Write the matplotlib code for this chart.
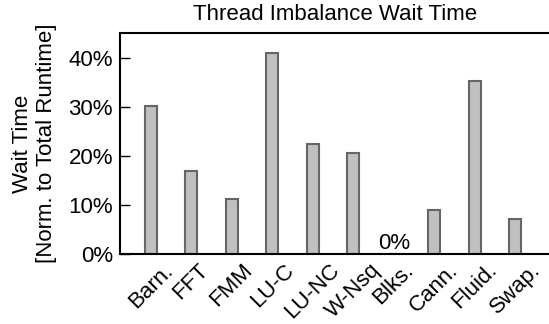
import matplotlib.pyplot as plt
import numpy as np

plt.rcParams['font.family'] = ['Liberation Sans', 'DejaVu Sans']

benchmarks = ["Barn.", "FFT", "FMM", "LU-C", "LU-NC", "W-Nsq", "Blks.", "Cann.", "Fluid.", "Swap."]
wait_time = [30.1, 16.9, 11.2, 40.9, 22.5, 20.5, 0.0, 8.9, 35.3, 7.1]
yticks = [0, 10, 20, 30, 40]

fig = plt.figure(figsize=(5.49, 3.24), dpi=100)
# right edge of the box sits just past the image border, like the original
ax = fig.add_axes([120 / 549, 1 - 254 / 324, 431 / 549, 221 / 324])

x = np.arange(len(benchmarks))
ax.bar(x, wait_time, width=0.3, color="#c0c0c0", edgecolor="#666666", linewidth=1.5)

for i, v in enumerate(wait_time):
    if v == 0:
        ax.text(i, 1.0, "0%", ha="center", va="baseline", fontsize=16)

ax.set_xlim(-0.755, 9.88)
ax.set_ylim(0, 45)
ax.set_yticks(yticks)
ax.set_yticklabels([f"{t}%" for t in yticks], fontsize=16)
ax.tick_params(axis="y", direction="in", length=7, width=1, pad=5)
ax.set_xticks(x)
ax.set_xticklabels(benchmarks, rotation=45, ha="center", fontsize=16)
ax.tick_params(axis="x", length=0, pad=4)

for side in ["left", "top", "bottom"]:
    ax.spines[side].set_linewidth(1.5)
ax.spines["right"].set_visible(False)

ax.set_title("Thread Imbalance Wait Time", fontsize=16, pad=9)
ax.set_ylabel("Wait Time\n[Norm. to Total Runtime]", fontsize=16, labelpad=8)

fig.savefig("out.png", dpi=100)
